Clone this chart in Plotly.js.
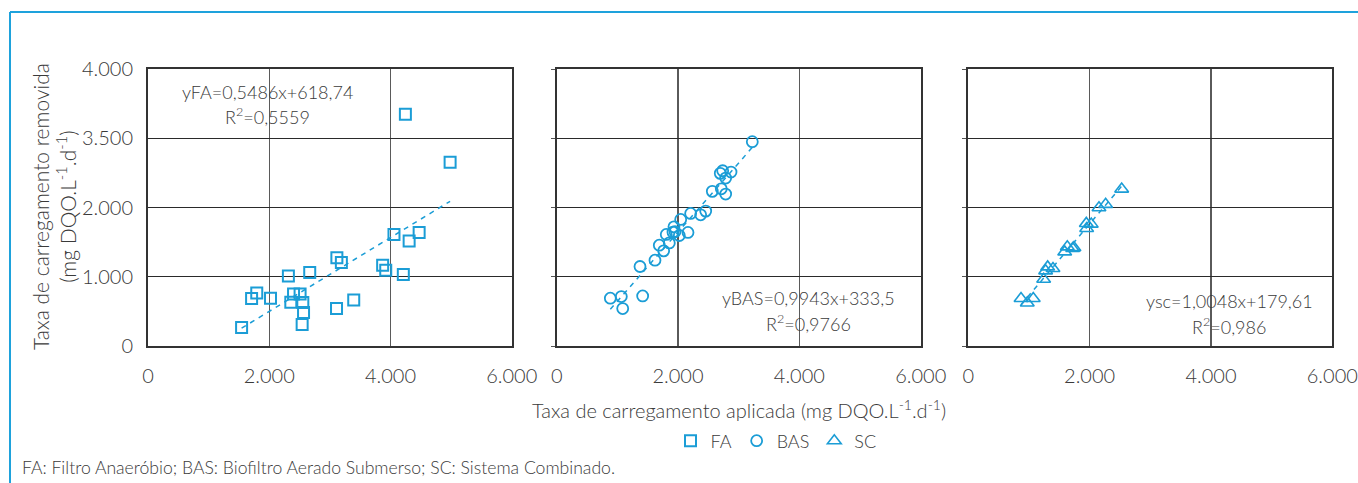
<!DOCTYPE html>
<html>
<head>
<meta charset="utf-8">
<script src="https://cdn.plot.ly/plotly-3.0.1.min.js"></script>
<style>html,body{margin:0;padding:0;background:#fff;}#chart{width:1358px;height:483px;}</style>
</head>
<body>
<div id="chart"></div>
<script>
// ---- data ----
const faX = [1544,1709,1794,2021,2316,2356,2401,2509,2554,2566,2543,2668,3110,3116,3190,3394,3871,3922,4058,4212,4308,4473,4246,4984];
const faY = [266,685,767,690,1012,632,752,752,627,483,309,1061,541,1273,1206,665,1167,1095,1611,1032,1518,1640,3346,2652];

const basX = [884,1065,1088,1417,1373,1620,1763,1691,1856,1806,1917,1933,2021,1950,2164,2044,2208,2373,2456,2565,2713,2785,2696,2736,2785,2873,3224];
const basY = [690,714,541,723,1148,1239,1374,1456,1489,1611,1644,1721,1596,1650,1640,1828,1914,1894,1948,2233,2270,2194,2493,2531,2425,2512,2950];

const scX = [869,972,1071,1242,1275,1308,1396,1589,1632,1720,1742,1945,1951,2027,2154,2264,2528];
const scY = [685,622,685,964,1085,1142,1119,1359,1432,1408,1420,1770,1697,1760,1996,2045,2266];

const seriesNames = ['FA','BAS','SC'];
const equations = ['yFA=0,5486x+618,74','yBAS=0,9943x+333,5','ysc=1,0048x+179,61'];
const r2Labels = ['R<sup>2</sup>=0,5559','R<sup>2</sup>=0,9766','R<sup>2</sup>=0,986'];

const xTickVals = [0,2000,4000,6000];
const xTickText = ['0','2.000','4.000','6.000'];
const yTickVals = [0,1000,2000,3000,4000];
const yTickText = ['0','1.000','2.000','3.500','4.000'];

// ---- styling ----
const BLUE = '#1b9dd6';
const TXT = '#3a3a3a';
const FONT = 'Lato, "Open Sans", sans-serif';
const WEIGHT = 300;
const W = 1358, H = 483;
const px = v => v / W;
const py = v => 1 - v / H;

function fit(xs, ys) {
  const n = xs.length;
  let sx=0, sy=0, sxx=0, sxy=0;
  for (let i=0;i<n;i++){ sx+=xs[i]; sy+=ys[i]; sxx+=xs[i]*xs[i]; sxy+=xs[i]*ys[i]; }
  const b = (n*sxy - sx*sy) / (n*sxx - sx*sx);
  const a = (sy - b*sx) / n;
  const x0 = Math.min(...xs), x1 = Math.max(...xs);
  return {x:[x0,x1], y:[a+b*x0, a+b*x1]};
}

const sets = [
  {x: faX, y: faY, sym: 'square-open', size: 11, lw: 2},
  {x: basX, y: basY, sym: 'circle-open', size: 11, lw: 1.8},
  {x: scX, y: scY, sym: 'triangle-up-open', size: 12, lw: 1.6}
];

const traces = [];
sets.forEach((s, i) => {
  const ax = i === 0 ? '' : String(i+1);
  const f = fit(s.x, s.y);
  traces.push({
    x: f.x, y: f.y, xaxis: 'x'+ax, yaxis: 'y'+ax, mode: 'lines', showlegend: false,
    hoverinfo: 'skip', line: {color: BLUE, width: 1.5, dash: '5px,5px'}
  });
  traces.push({
    x: s.x, y: s.y, xaxis: 'x'+ax, yaxis: 'y'+ax, mode: 'markers', name: seriesNames[i],
    showlegend: true,
    marker: {symbol: s.sym, size: s.size, color: BLUE, line: {color: BLUE, width: s.lw}}
  });
});

const yDom = [py(346), py(69)];
const xDoms = [[px(148), px(511.7)], [px(556.7), px(920.7)], [px(968.3), px(1332.3)]];

function xAxis(i) {
  return {
    domain: xDoms[i], range: [0, 6000], tickvals: xTickVals, ticktext: xTickText,
    showgrid: true, gridcolor: '#5a5a5a', gridwidth: 1.2, zeroline: false,
    showline: true, mirror: true, linecolor: '#333', linewidth: 2,
    ticks: '', ticklabelstandoff: 11, anchor: i === 0 ? 'y' : 'y'+(i+1),
    tickfont: {family: FONT, size: 20, weight: WEIGHT, color: TXT}, fixedrange: true
  };
}
function yAxis(i) {
  return {
    domain: yDom, range: [0, 4000], tickvals: yTickVals, ticktext: yTickText,
    showticklabels: i === 0,
    showgrid: true, gridcolor: '#2a2a2a', gridwidth: 1.2, zeroline: false,
    showline: true, mirror: true, linecolor: '#333', linewidth: 2,
    ticks: i === 0 ? '' : 'outside', ticklen: 4, tickcolor: '#555', ticklabelstandoff: 9,
    anchor: i === 0 ? 'x' : 'x'+(i+1),
    tickfont: {family: FONT, size: 20, weight: WEIGHT, color: TXT}, fixedrange: true
  };
}

const ann = [];
const eqPos = [[267, 92, 116], [808, 298, 323], [1229, 301, 326]];
eqPos.forEach((p, i) => {
  ann.push({xref:'paper', yref:'paper', x: px(p[0]), y: py(p[1]), text: equations[i], showarrow:false,
    xanchor:'center', yanchor:'middle', font:{family:FONT, size:18, weight: WEIGHT, color:TXT}});
  ann.push({xref:'paper', yref:'paper', x: px(p[0]), y: py(p[2]), text: r2Labels[i], showarrow:false,
    xanchor:'center', yanchor:'middle', font:{family:FONT, size:18, weight: WEIGHT, color:TXT}});
});
ann.push({xref:'paper', yref:'paper', x: px(739), y: py(409),
  text: 'Taxa de carregamento aplicada (mg DQO.L<sup>-1</sup>.d<sup>-1</sup>)', showarrow:false,
  xanchor:'center', yanchor:'middle', font:{family:FONT, size:20, weight: WEIGHT, color:TXT}});
ann.push({xref:'paper', yref:'paper', x: px(54), y: py(207),
  text: 'Taxa de carregamento removida<br>(mg DQO.L<sup>-1</sup>.d<sup>-1</sup>)', showarrow:false,
  textangle: -90, xanchor:'center', yanchor:'middle', font:{family:FONT, size:21, weight: WEIGHT, color:TXT}});
ann.push({xref:'paper', yref:'paper', x: px(20), y: py(467),
  text: 'FA: Filtro Anaeróbio; BAS: Biofiltro Aerado Submerso; SC: Sistema Combinado.', showarrow:false,
  xanchor:'left', yanchor:'middle', font:{family:FONT, size:17.6, weight: WEIGHT, color:TXT}});

const layout = {
  width: W, height: H, margin: {l:0, r:0, t:0, b:0},
  paper_bgcolor: '#fff', plot_bgcolor: '#fff',
  font: {family: FONT, color: TXT},
  xaxis: xAxis(0), yaxis: yAxis(0),
  xaxis2: xAxis(1), yaxis2: yAxis(1),
  xaxis3: xAxis(2), yaxis3: yAxis(2),
  showlegend: true,
  legend: {orientation: 'h', x: px(776), y: py(441), xanchor: 'center', yanchor: 'middle',
    itemwidth: 30, tracegroupgap: 0, font: {family: FONT, size: 18, weight: WEIGHT, color: TXT}, bgcolor: 'rgba(0,0,0,0)'},
  annotations: ann,
  shapes: [
    {type:'line', xref:'paper', yref:'paper', x0: px(10), x1: 1, y0: py(12), y1: py(12), line:{color:'#1ea2dc', width:2}},
    {type:'line', xref:'paper', yref:'paper', x0: px(10), x1: px(10), y0: py(12), y1: 0, line:{color:'#1ea2dc', width:2}}
  ]
};

Plotly.newPlot('chart', traces, layout, {staticPlot: true, displayModeBar: false});
</script>
</body>
</html>
